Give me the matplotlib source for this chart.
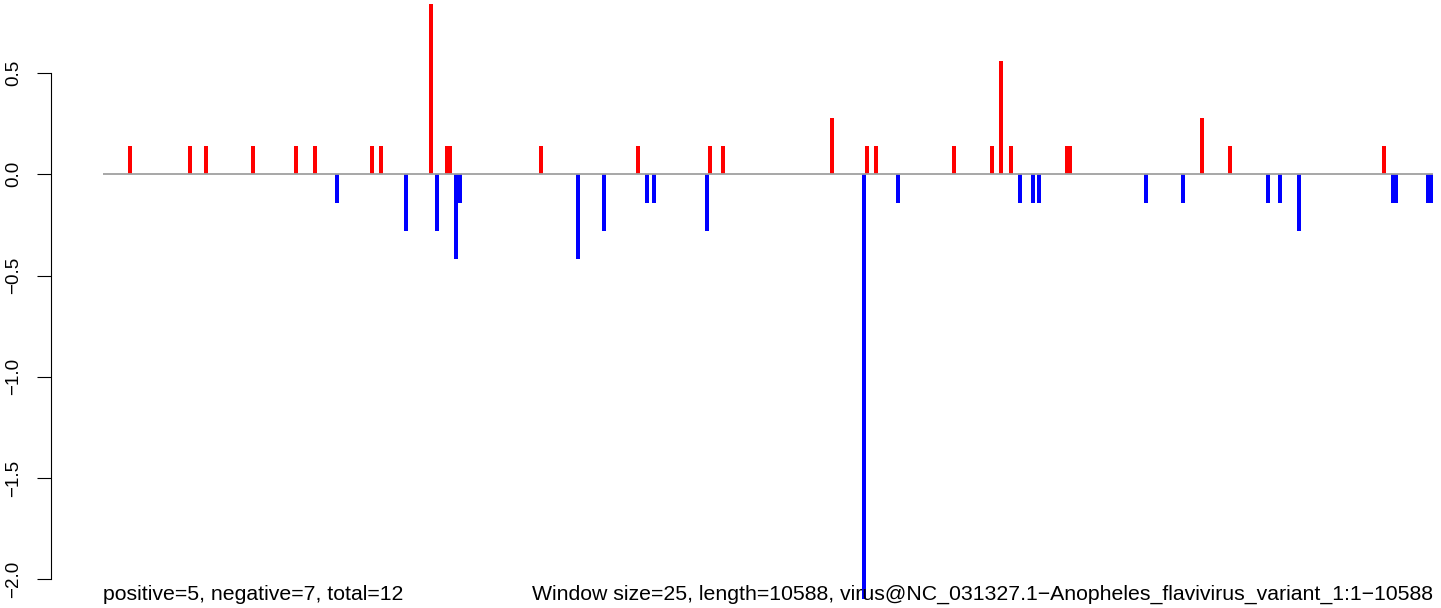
import matplotlib
matplotlib.use('Agg')
import matplotlib.pyplot as plt
import matplotlib.transforms as mtransforms

plt.rcParams['font.family'] = ['Liberation Sans', 'DejaVu Sans']

# genome length and window info
seq_len = 10588
win_size = 25

# windows with a positive score (bp position, value)
pos_x = [215, 693, 820, 1194, 1536, 1688, 2142, 2213, 2611, 2739, 2762, 3487,
         4259, 4832, 4936, 5804, 6082, 6154, 6775, 7077, 7149, 7229, 7674, 7698,
         8749, 8972, 10198]
pos_y = [0.14, 0.14, 0.14, 0.14, 0.14, 0.14, 0.14, 0.14, 0.84, 0.14, 0.14, 0.14,
         0.14, 0.14, 0.14, 0.28, 0.14, 0.14, 0.14, 0.14, 0.56, 0.14, 0.14, 0.14,
         0.28, 0.14, 0.14]

# windows with a negative score
neg_x = [1863, 2412, 2659, 2810, 2838, 3781, 3988, 4331, 4386, 4808, 6058, 6329,
         7300, 7404, 7452, 8303, 8598, 9275, 9370, 9521, 10270, 10294, 10549, 10573]
neg_y = [-0.14, -0.28, -0.28, -0.42, -0.14, -0.42, -0.28, -0.14, -0.14, -0.28, -2.1, -0.14,
         -0.14, -0.14, -0.14, -0.14, -0.14, -0.14, -0.14, -0.28, -0.14, -0.14, -0.14, -0.14]

y_ticks = [0.5, 0.0, -0.5, -1.0, -1.5, -2.0]
y_labels = ['0.5', '0.0', '\u22120.5', '\u22121.0', '\u22121.5', '\u22122.0']

left_note = 'positive=5, negative=7, total=12'
right_note = ('Window size=25, length=10588, '
              'virus@NC_031327.1\u2212Anopheles_flavivirus_variant_1:1\u221210588')

W, H = 1441, 608
fig = plt.figure(figsize=(W / 100, H / 100), dpi=100)
ax = fig.add_axes([103 / W, 0, 1330 / W, 1])

bw = 32  # bar width in bp (~4 px)
ax.bar(pos_x, pos_y, width=bw, color='red', linewidth=0)
ax.bar(neg_x, neg_y, width=bw, color='blue', linewidth=0)
ax.plot([0, seq_len], [0, 0], color='#a0a0a0', lw=1.3, zorder=3)

ax.set_xlim(0, seq_len)
ax.set_ylim(-2.142, 0.861)

for s in ['top', 'right', 'bottom']:
    ax.spines[s].set_visible(False)
ax.spines['left'].set_position(('outward', 37.5))
ax.spines['left'].set_bounds(-2.0, 0.5)
ax.spines['left'].set_linewidth(0.8)
ax.set_xticks([])
ax.set_yticks(y_ticks)
ax.set_yticklabels(y_labels, rotation=90, va='center', fontsize=13.5)
ax.tick_params(axis='y', length=10, width=0.8, pad=11)
ax.patch.set_visible(False)

trans = mtransforms.blended_transform_factory(ax.transData, fig.transFigure)
ax.text(0, 8 / H, left_note, transform=trans, ha='left', va='baseline', fontsize=15.3)
ax.text(seq_len, 8 / H, right_note, transform=trans, ha='right', va='baseline', fontsize=15.3)

fig.savefig('out.png', dpi=100)
